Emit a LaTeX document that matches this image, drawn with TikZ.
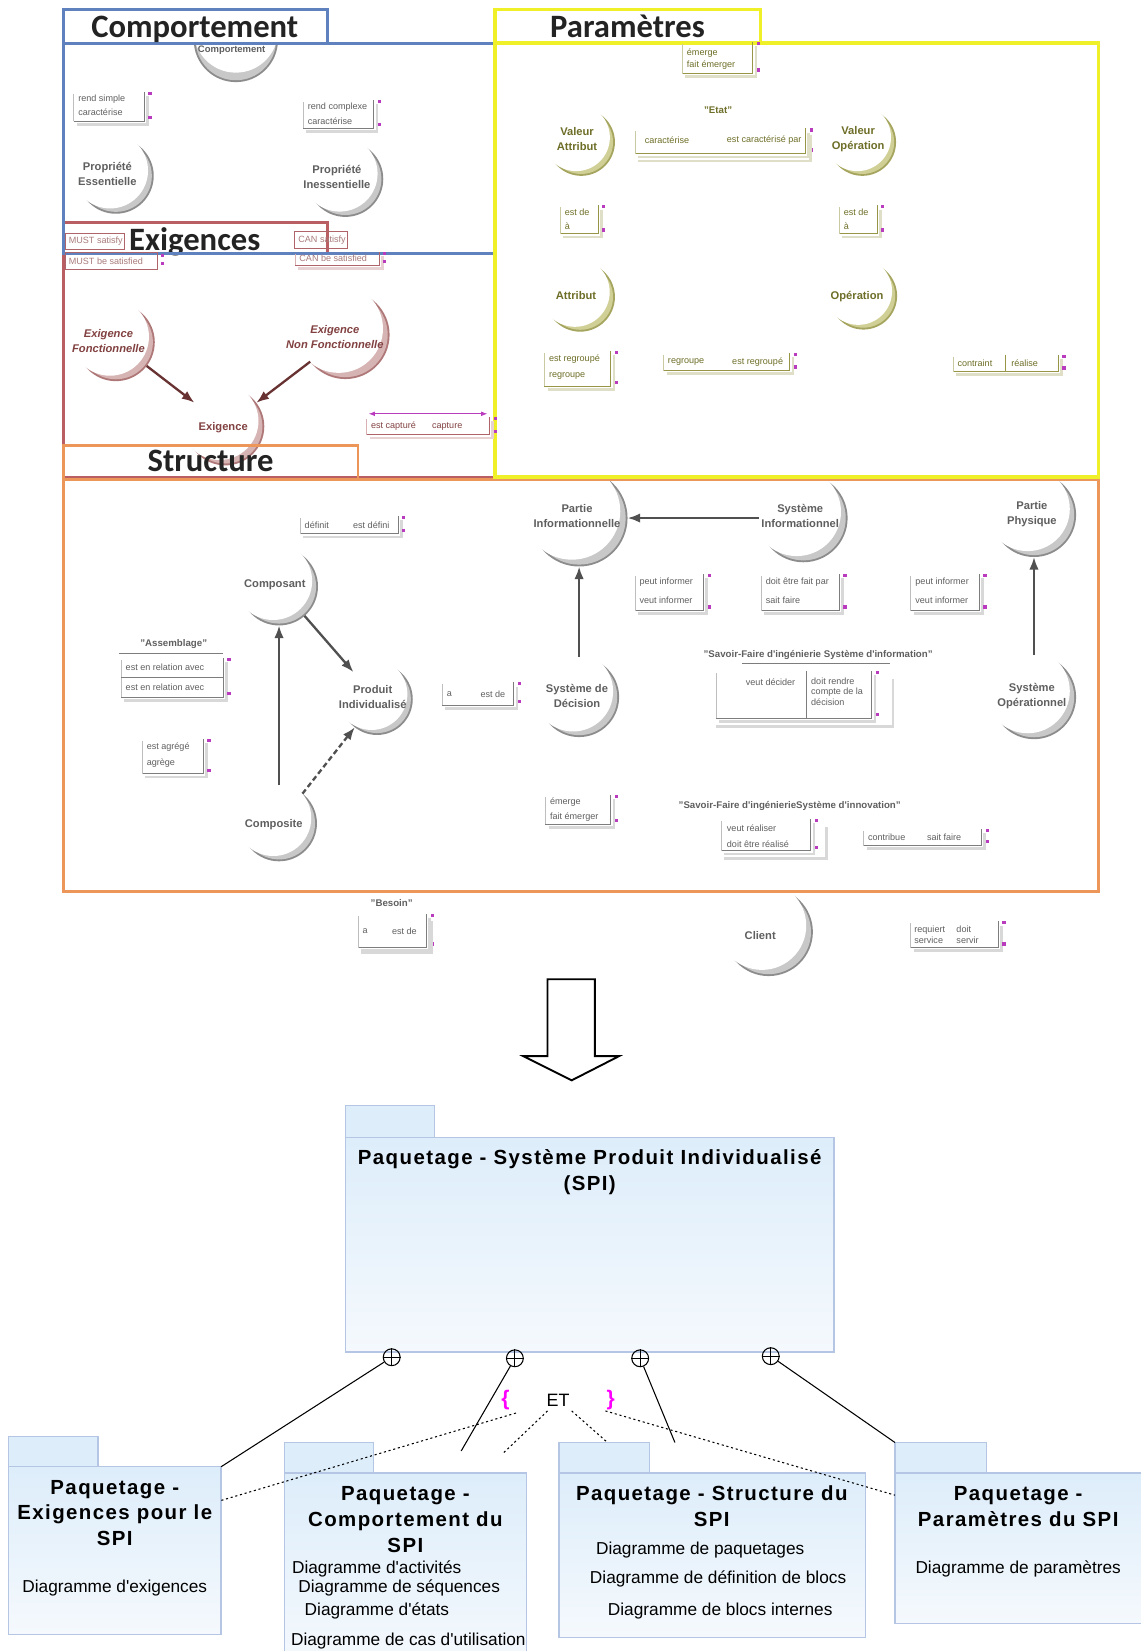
\documentclass[tikz,border=0pt]{standalone}
\usepackage{fontspec}
\setmainfont{Liberation Sans}
\newfontfamily\titlefont{Carlito}
\newfontfamily\pkgfont[LetterSpace=7]{Liberation Sans}
\usetikzlibrary{arrows.meta,calc}

\definecolor{cblue}{RGB}{95,130,190}
\definecolor{cyel}{RGB}{240,240,40}
\definecolor{cred}{RGB}{185,95,100}
\definecolor{cora}{RGB}{236,150,90}
\definecolor{gOut}{RGB}{140,140,140}
\definecolor{gIn}{RGB}{200,200,200}
\definecolor{rOut}{RGB}{175,120,120}
\definecolor{rIn}{RGB}{215,180,180}
\definecolor{yOut}{RGB}{165,165,95}
\definecolor{yIn}{RGB}{208,208,150}
\definecolor{tG}{RGB}{95,95,95}
\definecolor{tR}{RGB}{130,65,65}
\definecolor{tY}{RGB}{110,110,40}
\definecolor{bG}{RGB}{125,125,125}
\definecolor{bR}{RGB}{175,100,105}
\definecolor{bY}{RGB}{150,150,70}
\definecolor{mag}{RGB}{185,60,190}
\definecolor{pkgline}{RGB}{180,198,228}
\definecolor{pkgA}{RGB}{221,237,250}
\definecolor{pkgB}{RGB}{245,249,253}
\definecolor{brc}{RGB}{255,0,255}
\definecolor{titlec}{RGB}{35,35,35}
\definecolor{arrc}{RGB}{80,80,80}
\definecolor{arrr}{RGB}{105,50,50}

\newcommand\apos{\textquotesingle}
% name x y R outer inner dx dy
\newcommand\crsnt[8]{%
  \node[circle,inner sep=0pt,outer sep=0pt,minimum size=#4pt] (#1) at (#2,#3) {};
  \fill[#5] (#1.center) circle[radius=#4];
  \fill[#6] (#1.center) circle[radius=#4-1.8];
  \fill[white] ($(#1.center)+(#7*#4,#8*#4)$) circle[radius=#4];
}
% x1 y1 x2 y2 colour
\newcommand\assocbox[5]{%
  \draw[#5!30,line width=1.3pt] (#1+3,#4+3) -- (#3+3,#4+3) -- (#3+3,#2+4);
  \draw[#5,line width=0.45pt] (#1,#4) -- (#3,#4) -- (#3,#2);
  \draw[#5!50,line width=0.3pt] (#1,#2+2) -- (#1,#4);
  \fill[mag] (#3+4,#2) rectangle (#3+7,#2+3);
  \fill[mag] (#3+4,#4-5) rectangle (#3+7,#4-2);
}

\begin{document}
\begin{tikzpicture}[x=0.5pt,y=-0.5pt,
  ttl/.style={font=\titlefont\bfseries\fontsize{15.5}{18}\selectfont, text=titlec, inner sep=0pt, anchor=base},
  lab/.style={font=\fontsize{5.3}{7}\selectfont\bfseries, align=center, inner sep=0pt},
  sm/.style={font=\fontsize{4.3}{5}\selectfont, inner sep=0pt, anchor=west},
  smb/.style={font=\fontsize{4.6}{5.5}\selectfont\bfseries, inner sep=0pt},
  pkgtab/.style={draw=pkgline, fill=pkgA, line width=0.6pt, inner sep=0pt, outer sep=0pt, anchor=north west},
  pkgbody/.style={draw=pkgline, top color=pkgA, bottom color=pkgB, line width=0.6pt, inner sep=0pt, outer sep=0pt, anchor=north west},
  pkgt/.style={font=\pkgfont\bfseries\fontsize{9.7}{12}\selectfont, inner sep=0pt, anchor=base},
  dg/.style={font=\fontsize{8.2}{10}\selectfont, inner sep=0pt, anchor=base},
  cplus/.style={circle, draw, line width=0.5pt, minimum size=8pt, inner sep=0pt},
  conn/.style={draw, line width=0.5pt},
  dotc/.style={draw, line width=0.5pt, dash pattern=on 1pt off 1.3pt},
  arrG/.style={draw=arrc, line width=1.1pt, -{Latex[length=6pt,width=4.5pt]}},
  arrR/.style={draw=arrr, line width=1.1pt, -{Latex[length=6pt,width=4.5pt]}},
  frB/.style={draw=cblue, line width=1.3pt},
  frR/.style={draw=cred, line width=1.3pt},
  frO/.style={draw=cora, line width=1.4pt},
  frY/.style={draw=cyel, line width=1.6pt}]
\useasboundingbox (0,0) rectangle (1083,1568);

% ---------- crescents ----------
\node[circle,inner sep=0pt,minimum size=40pt] (n-comp) at (224,38) {};
\fill[gOut] (n-comp.center) circle[radius=40];
\fill[gIn] (n-comp.center) circle[radius=38.2];
\fill[white] ($(n-comp.center)+(0,-9)$) circle[radius=40];

\crsnt{n-pe}{110}{167}{36}{gOut}{gIn}{-0.15}{-0.14}
\crsnt{n-pi}{328}{170}{36}{gOut}{gIn}{-0.15}{-0.14}
\crsnt{n-ef}{110}{325}{37}{rOut}{rIn}{-0.15}{-0.14}
\crsnt{n-enf}{328}{318}{42}{rOut}{rIn}{-0.15}{-0.14}
\crsnt{n-ex}{214}{405}{37}{rOut}{rIn}{-0.15}{-0.14}
\crsnt{n-va}{552}{135}{32}{yOut}{yIn}{-0.15}{-0.14}
\crsnt{n-vo}{819}{135}{32}{yOut}{yIn}{-0.15}{-0.14}
\crsnt{n-at}{551}{282}{33}{yOut}{yIn}{-0.15}{-0.14}
\crsnt{n-op}{820}{281}{32}{yOut}{yIn}{-0.15}{-0.14}
\crsnt{n-cpt}{265}{557}{37}{gOut}{gIn}{-0.15}{-0.14}
\crsnt{n-pro}{358}{664}{34}{gOut}{gIn}{-0.15}{-0.14}
\crsnt{n-cps}{265}{782}{36}{gOut}{gIn}{-0.15}{-0.14}
\crsnt{n-pin}{550}{492}{46}{gOut}{gIn}{-0.15}{-0.14}
\crsnt{n-sin}{763}{492}{42}{gOut}{gIn}{-0.15}{-0.14}
\crsnt{n-pph}{982}{489}{40}{gOut}{gIn}{-0.15}{-0.14}
\crsnt{n-sde}{550}{662}{38}{gOut}{gIn}{-0.15}{-0.14}
\crsnt{n-sop}{982}{662}{40}{gOut}{gIn}{-0.15}{-0.14}
\crsnt{n-cli}{730}{885}{42}{gOut}{gIn}{-0.15}{-0.14}

% ---------- frames ----------
\draw[frR] (60,241) rectangle (470,453);
\draw[frR] (60,211) rectangle (311,241);
\node[ttl] (T-exi) at (185,237.5) {Exigences};

\draw[frB] (60,41) rectangle (470,241);
\draw[frB,fill=white] (60,9) rectangle (311,41);
\node[ttl] (T-comp) at (185,36) {Comportement};

\draw[frO] (60,455) rectangle (1043,847);
\draw[frO] (60,423) rectangle (340,455);
\node[ttl] (T-str) at (200,448) {Structure};

\draw[frY] (470,41) rectangle (1043,453);
\draw[frY] (470,9) rectangle (722,41);
\node[ttl] (T-par) at (596,36) {Paramètres};

% ---------- association boxes : Comportement ----------
\assocbox{70}{87}{137}{115}{bG}
\node[sm,text=tG] (a1a) at (74,94) {rend simple};
\node[sm,text=tG] (a1b) at (74,107) {caractérise};
\assocbox{288}{95}{355}{122}{bG}
\node[sm,text=tG] (a2a) at (292,102) {rend complexe};
\node[sm,text=tG] (a2b) at (292,115) {caractérise};

% ---------- Exigences ----------
\draw[bR,line width=0.5pt] (62,222) rectangle (118,237);
\node[sm,text=tR!70] (a3a) at (65,229.5) {MUST satisfy};
\draw[bR,line width=0.5pt] (62,240) rectangle (150,256);
\node[sm,text=tR!70] (a3b) at (65,248) {MUST be satisfied};
\fill[mag] (153,241) rectangle (156,244);
\fill[mag] (153,249) rectangle (156,252);
\draw[bR,line width=0.5pt] (280,220) rectangle (330,236);
\node[sm,text=tR!70] (a4a) at (283,228) {CAN satisfy};
\assocbox{280}{239}{360}{252}{bR}
\node[sm,text=tR!70] (a4b) at (284,245.5) {CAN be satisfied};
\assocbox{348}{396}{465}{413}{bR}
\coordinate (cap1) at (350,393);
\coordinate (cap2) at (463,393);
\draw[mag,line width=0.5pt,{Latex[length=3pt]}-{Latex[length=3pt]}] (cap1) -- (cap2);
\node[sm,text=tR] (a5a) at (352,405) {est capturé};
\node[sm,text=tR] (a5b) at (410,405) {capture};

% ---------- Paramètres ----------
\assocbox{648}{40}{715}{70}{bY}
\node[sm,text=tY] (a6a) at (652,50) {émerge};
\node[sm,text=tY] (a6b) at (652,62) {fait émerger};
\node[smb,text=tY] (l-etat) at (682,105) {"Etat"};
\assocbox{603}{122}{765}{146}{bY}
\draw[bY!30,line width=1.3pt] (606,153) -- (770,153) -- (770,128);
\node[sm,text=tY] (a7a) at (612,133) {caractérise};
\node[sm,text=tY] (a7b) at (690,133) {est caractérisé par};
\assocbox{532}{195}{568}{222}{bY}
\node[sm,text=tY] (a8a) at (536,202) {est de};
\node[sm,text=tY] (a8b) at (536,215) {à};
\assocbox{797}{195}{833}{222}{bY}
\node[sm,text=tY] (a9a) at (801,202) {est de};
\node[sm,text=tY] (a9b) at (801,215) {à};
\assocbox{517}{333}{580}{367}{bY}
\node[sm,text=tY] (a10a) at (521,341) {est regroupé};
\node[sm,text=tY] (a10b) at (521,357) {regroupe};
\assocbox{630}{335}{750}{352}{bY}
\node[sm,text=tY] (a11a) at (634,344) {regroupe};
\node[sm,text=tY] (a11b) at (695,344) {est regroupé};
\assocbox{905}{337}{1005}{353}{bY}
\draw[bY,line width=0.45pt] (955,337) -- (955,353);
\node[sm,text=tY] (a12a) at (909,345) {contraint};
\node[sm,text=tY] (a12b) at (960,345) {réalise};

% ---------- Structure ----------
\assocbox{285}{490}{378}{507}{bG}
\node[sm,text=tG] (a13a) at (289,499) {définit};
\node[sm,text=tG] (a13b) at (335,499) {est défini};
\node[smb,text=tG] (l-ass) at (165,612) {"Assemblage"};
\draw[bG,line width=0.45pt] (113,621) -- (212,621);
\assocbox{115}{625}{212}{662}{bG}
\draw[bG,line width=0.45pt] (115,643) -- (212,643);
\node[sm,text=tG] (a14a) at (119,634) {est en relation avec};
\node[sm,text=tG] (a14b) at (119,653) {est en relation avec};
\assocbox{135}{702}{193}{735}{bG}
\node[sm,text=tG] (a15a) at (139,710) {est agrégé};
\node[sm,text=tG] (a15b) at (139,725) {agrège};
\assocbox{420}{648}{488}{670}{bG}
\node[sm,text=tG] (a16a) at (424,659) {a};
\node[sm,text=tG] (a16b) at (456,659) {est de};
\assocbox{603}{545}{668}{580}{bG}
\node[sm,text=tG] (a17a) at (607,553) {peut informer};
\node[sm,text=tG] (a17b) at (607,570) {veut informer};
\assocbox{723}{545}{797}{580}{bG}
\node[sm,text=tG] (a18a) at (727,553) {doit être fait par};
\node[sm,text=tG] (a18b) at (727,570) {sait faire};
\assocbox{865}{545}{930}{580}{bG}
\node[sm,text=tG] (a19a) at (869,553) {peut informer};
\node[sm,text=tG] (a19b) at (869,570) {veut informer};
\node[smb,text=tG] (l-sfi) at (777,622) {"Savoir-Faire d\apos ingénierie Système d\apos information"};
\draw[bG,line width=0.45pt] (705,630) -- (845,630);
\assocbox{680}{637}{828}{682}{bG}
\draw[bG!30,line width=1.3pt] (680,690) -- (848,690) -- (848,645);
\draw[bG,line width=0.45pt] (766,637) -- (766,682);
\node[sm,text=tG] (a20a) at (708,648) {veut décider};
\node[sm,text=tG,anchor=north west,align=left] (a20b) at (770,643) {doit rendre\\compte de la\\décision};
\assocbox{518}{755}{580}{783}{bG}
\node[sm,text=tG] (a21a) at (522,762) {émerge};
\node[sm,text=tG] (a21b) at (522,776) {fait émerger};
\node[smb,text=tG] (l-sfn) at (750,765) {"Savoir-Faire d\apos ingénierieSystème d\apos innovation"};
\assocbox{685}{778}{770}{808}{bG}
\draw[bG!30,line width=1.3pt] (688,815) -- (785,815) -- (785,785);
\node[sm,text=tG] (a22a) at (690,787) {veut réaliser};
\node[sm,text=tG] (a22b) at (690,802) {doit être réalisé};
\assocbox{820}{787}{932}{803}{bG}
\node[sm,text=tG] (a23a) at (824,795) {contribue};
\node[sm,text=tG] (a23b) at (880,795) {sait faire};

% ---------- below the frames ----------
\node[smb,text=tG] (l-bes) at (372,858) {"Besoin"};
\assocbox{340}{868}{405}{900}{bG}
\draw[bG!30,line width=1.3pt] (343,905) -- (410,905) -- (410,875);
\node[sm,text=tG] (a24a) at (344,884) {a};
\node[sm,text=tG] (a24b) at (372,884) {est de};
\assocbox{865}{875}{948}{900}{bG}
\node[sm,text=tG,align=left] (a25a) at (868,888) {requiert\\service};
\node[sm,text=tG,align=left] (a25b) at (908,888) {doit\\servir};

% ---------- class labels ----------
\node[lab,text=tG,font=\fontsize{4.5}{5}\selectfont\bfseries] (t-comp) at (220,48) {Comportement};
\node[lab,text=tG] (t-pe) at (102,165) {Propriété\\Essentielle};
\node[lab,text=tG] (t-pi) at (320,168) {Propriété\\Inessentielle};
\node[lab,text=tR,font=\fontsize{5.3}{7}\selectfont\bfseries\itshape] (t-ef) at (103,324) {Exigence\\Fonctionnelle};
\node[lab,text=tR,font=\fontsize{5.3}{7}\selectfont\bfseries\itshape] (t-enf) at (318,320) {Exigence\\Non Fonctionnelle};
\node[lab,text=tR] (t-ex) at (212,406) {Exigence};
\node[lab,text=tY] (t-va) at (548,132) {Valeur\\Attribut};
\node[lab,text=tY] (t-vo) at (815,132) {Valeur\\Opération};
\node[lab,text=tY] (t-at) at (547,281) {Attribut};
\node[lab,text=tY] (t-op) at (814,282) {Opération};
\node[lab,text=tG] (t-cpt) at (261,555) {Composant};
\node[lab,text=tG] (t-pro) at (354,662) {Produit\\Individualisé};
\node[lab,text=tG] (t-cps) at (260,783) {Composite};
\node[lab,text=tG] (t-pin) at (548,490) {Partie\\Informationnelle};
\node[lab,text=tG] (t-sin) at (760,490) {Système\\Informationnel};
\node[lab,text=tG] (t-pph) at (980,488) {Partie\\Physique};
\node[lab,text=tG] (t-sde) at (548,661) {Système de\\Décision};
\node[lab,text=tG] (t-sop) at (980,661) {Système\\Opérationnel};
\node[lab,text=tG] (t-cli) at (722,888) {Client};

% ---------- arrows ----------
\draw[arrR] (n-ef) -- (n-ex);
\draw[arrR] (n-enf) -- (n-ex);
\draw[arrG] (n-cps) -- (n-cpt);
\draw[arrG] (n-cpt) -- (n-pro);
\draw[arrG,dash pattern=on 2.5pt off 1.5pt] (n-cps) -- (n-pro);
\draw[arrG] (n-sin) -- (n-pin);
\draw[arrG] (n-sde) -- (n-pin);
\draw[arrG] (n-sop) -- (n-pph);

% ---------- big arrow ----------
\draw[line width=0.9pt] (520,930) -- (565,930) -- (565,1003) -- (588,1003) -- (543,1026) -- (497,1003) -- (520,1003) -- cycle;

% ---------- packages ----------
\node[pkgtab,minimum width=42.5pt,minimum height=15pt] (tabSPI) at (328,1050) {};
\node[pkgbody,minimum width=232pt,minimum height=102pt] (pSPI) at (328,1080) {};
\node[pkgt] (tSPI1) at (560,1106) {Paquetage - Système Produit Individualisé};
\node[pkgt] (tSPI2) at (560,1130.5) {(SPI)};

\node[pkgtab,minimum width=42.5pt,minimum height=14.5pt] (tabE) at (8,1364) {};
\node[pkgbody,minimum width=101pt,minimum height=79.5pt] (pE) at (8,1393) {};
\node[pkgt] (tE1) at (109,1419) {Paquetage -};
\node[pkgt] (tE2) at (109,1443.5) {Exigences pour le};
\node[pkgt] (tE3) at (109,1468) {SPI};
\node[dg] (dE1) at (109,1512) {Diagramme d\apos exigences};

\node[pkgtab,minimum width=42.5pt,minimum height=14.5pt] (tabC) at (270,1370) {};
\node[pkgbody,minimum width=115pt,minimum height=92pt] (pC) at (270,1399) {};
\node[pkgt] (tC1) at (385,1425) {Paquetage -};
\node[pkgt] (tC2) at (385,1449.5) {Comportement du};
\node[pkgt] (tC3) at (385,1474) {SPI};
\node[dg,anchor=base west] (dC1) at (277,1494) {Diagramme d\apos activités};
\node[dg,anchor=base west] (dC2) at (283,1512) {Diagramme de séquences};
\node[dg,anchor=base west] (dC3) at (289,1534) {Diagramme d\apos états};
\node[dg,anchor=base west] (dC4) at (276,1563) {Diagramme de cas d\apos utilisation};

\node[pkgtab,minimum width=43pt,minimum height=14.5pt] (tabS) at (531,1370) {};
\node[pkgbody,minimum width=145.5pt,minimum height=78pt] (pS) at (531,1399) {};
\node[pkgt] (tS1) at (676,1425) {Paquetage - Structure du};
\node[pkgt] (tS2) at (676,1449.5) {SPI};
\node[dg] (dS1) at (665,1476) {Diagramme de paquetages};
\node[dg] (dS2) at (682,1504) {Diagramme de définition de blocs};
\node[dg] (dS3) at (684,1534) {Diagramme de blocs internes};

\node[pkgtab,minimum width=43.5pt,minimum height=14.5pt] (tabP) at (850,1370) {};
\node[pkgbody,minimum width=122pt,minimum height=71.5pt] (pP) at (850,1399) {};
\node[pkgt] (tP1) at (967,1425) {Paquetage -};
\node[pkgt] (tP2) at (967,1449.5) {Paramètres du SPI};
\node[dg] (dP1) at (967,1494) {Diagramme de paramètres};

% ---------- containment connectors ----------
\node[cplus] (cp1) at (372,1289) {};
\node[cplus] (cp2) at (489,1290) {};
\node[cplus] (cp3) at (608,1290) {};
\node[cplus] (cp4) at (732,1288) {};
\foreach \c in {cp1,cp2,cp3,cp4}{
  \draw[line width=0.5pt] (\c.north) -- (\c.south) (\c.east) -- (\c.west);
}
\coordinate (c2e) at (438,1378);
\coordinate (c3e) at (641,1370);
\draw[conn] (cp1) -- (pE.north east);
\draw[conn] (cp2) -- (c2e);
\draw[conn] (cp3) -- (c3e);
\draw[conn] (cp4) -- (tabP.north west);

% ---------- {ET} constraint ----------
\node[inner sep=0pt,font=\fontsize{8.5}{10}\selectfont] (et) at (530,1330) {ET};
\node[inner sep=0pt,text=brc,font=\fontsize{10}{12}\selectfont\bfseries] (br1) at (480,1330) {\{};
\node[inner sep=0pt,text=brc,font=\fontsize{10}{12}\selectfont\bfseries] (br2) at (580,1330) {\}};
\coordinate (d1a) at (490,1342);
\coordinate (d1b) at (210,1425);
\coordinate (d2a) at (520,1340);
\coordinate (d2b) at (478,1380);
\coordinate (d3a) at (543,1340);
\coordinate (d3b) at (577,1370);
\coordinate (d4a) at (575,1340);
\coordinate (d4b) at (850,1420);
\draw[dotc] (d1a) -- (d1b);
\draw[dotc] (d2a) -- (d2b);
\draw[dotc] (d3a) -- (d3b);
\draw[dotc] (d4a) -- (d4b);
\end{tikzpicture}
\end{document}
